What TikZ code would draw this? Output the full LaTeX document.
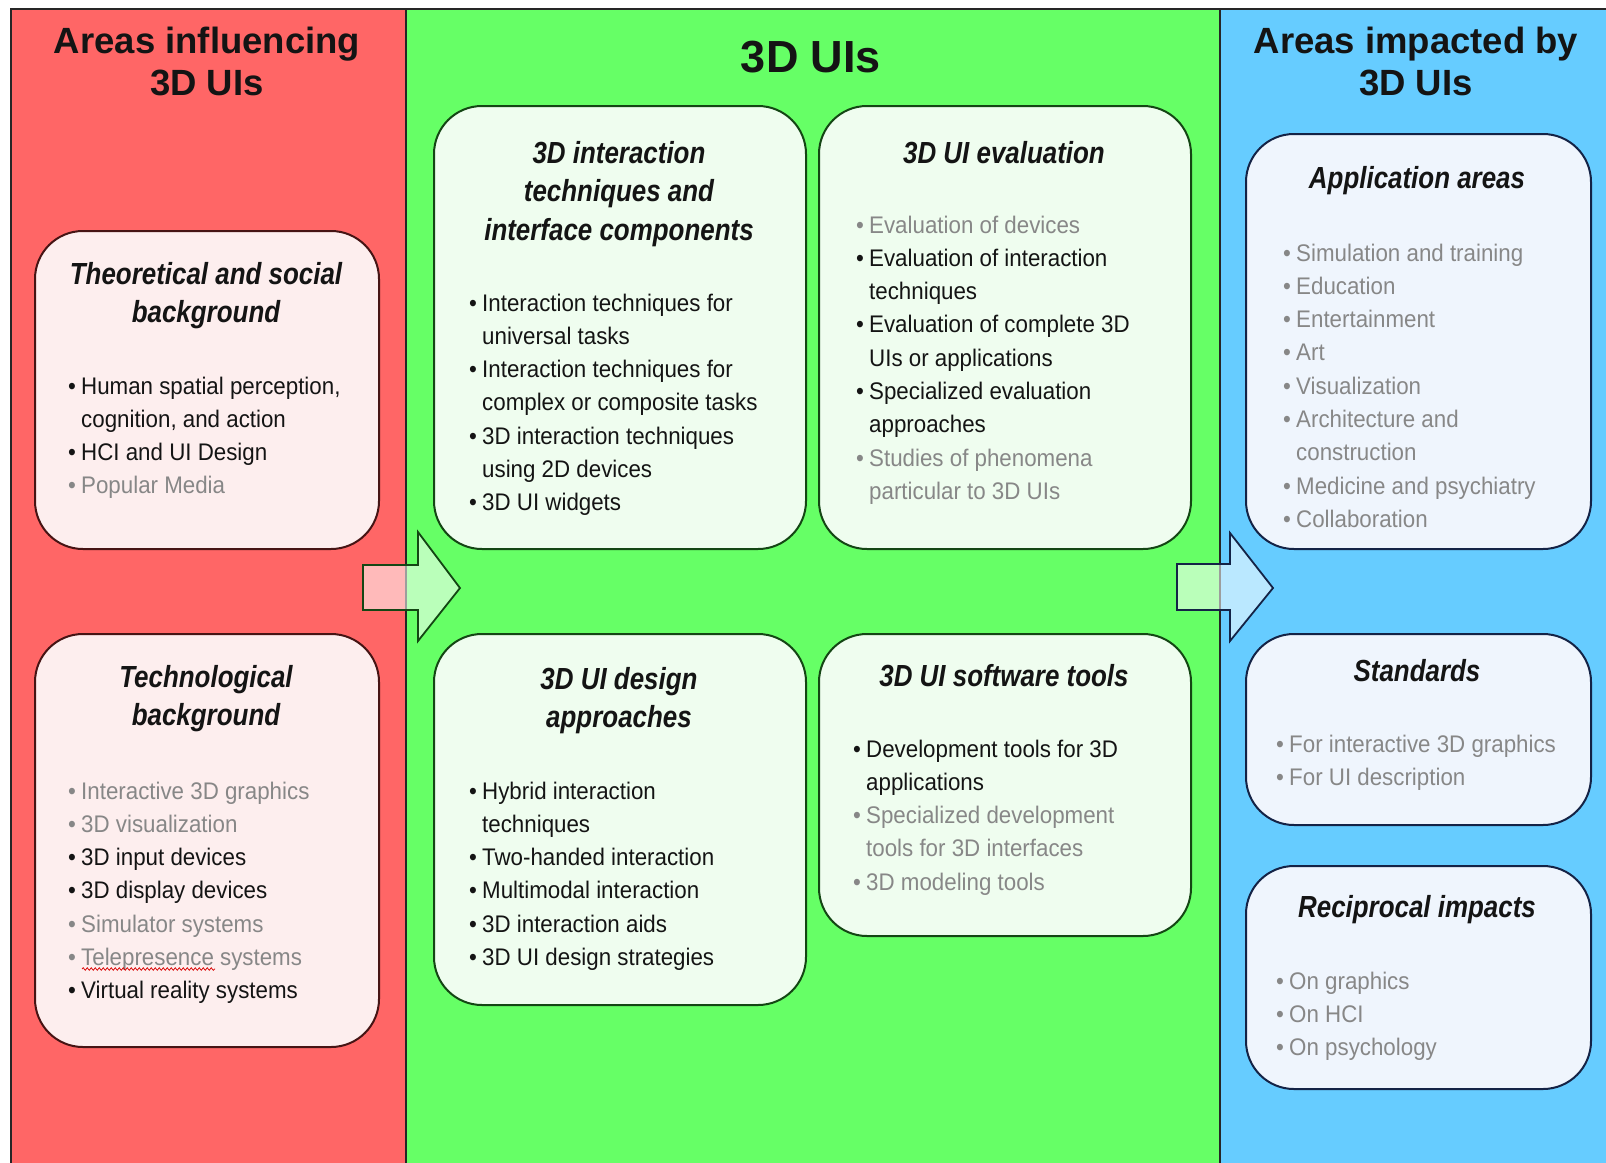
\documentclass[tikz,border=0pt]{standalone}
\usepackage{fontspec}
\setmainfont{Liberation Sans}
\newfontfamily\ttlfont[FakeStretch=0.85]{Liberation Sans}
\newfontfamily\bodyfont[FakeStretch=0.93]{Liberation Sans}
\usetikzlibrary{decorations.pathmorphing}
\definecolor{pred}{RGB}{255,102,102}
\definecolor{pgreen}{RGB}{102,255,102}
\definecolor{pblue}{RGB}{102,204,255}
\definecolor{fred}{RGB}{253,238,238}
\definecolor{fgreen}{RGB}{239,253,239}
\definecolor{fblue}{RGB}{239,245,253}
\definecolor{ored}{RGB}{70,20,20}
\definecolor{ogreen}{RGB}{20,70,20}
\definecolor{oblue}{RGB}{20,35,70}
\definecolor{txtblack}{RGB}{20,20,20}
\definecolor{txtgray}{RGB}{135,135,135}
\newcommand\bk[1]{\makebox[13pt][l]{\textbullet}#1}
\newcommand\ct[1]{\hspace*{13pt}#1}
\newcommand\gy[1]{{\color{txtgray}\makebox[13pt][l]{\textbullet}#1}}
\newcommand\cg[1]{{\color{txtgray}\hspace*{13pt}#1}}
\tikzset{
  panel/.style={draw=black!85, line width=1.5pt, anchor=north west, inner sep=0pt},
  box/.style={rectangle, rounded corners=48pt, line width=2pt, anchor=north west, inner sep=0pt},
  rbox/.style={box, draw=ored, fill=fred},
  gbox/.style={box, draw=ogreen, fill=fgreen},
  bbox/.style={box, draw=oblue, fill=fblue},
  hdr/.style={anchor=base, inner sep=0pt, text=txtblack, font={\fontsize{36.5}{42}\selectfont\bfseries}},
  ttl/.style={anchor=base, inner sep=0pt, text=txtblack, font={\ttlfont\fontsize{30.5}{38.5}\selectfont\bfseries\itshape}},
  lst/.style={anchor=base west, inner sep=0pt, text=txtblack, font={\bodyfont\fontsize{24}{33.3}\selectfont}},
  blockarrow/.style={line width=1.8pt, fill=white, fill opacity=0.55, draw opacity=1},
}
\begin{document}
\begin{tikzpicture}[x=1pt,y=-1pt]
\useasboundingbox (0,0) rectangle (1606,1162);
% panels
\node[panel, fill=pred, minimum width=395pt, minimum height=1180pt] (pl) at (10,8) {};
\node[panel, fill=pgreen, minimum width=814pt, minimum height=1180pt] (pm) at (405,8) {};
\node[panel, fill=pblue, minimum width=400pt, minimum height=1180pt] (pr) at (1219,8) {};
% headers
\node[hdr] (hl) at (207,53) {\begin{tabular}[t]{@{}c@{}}Areas influencing\\3D UIs\end{tabular}};
\node[anchor=base, inner sep=0pt, text=txtblack, font={\fontsize{45}{50}\selectfont\bfseries}] (hm) at (811,72) {3D UIs};
\node[hdr] (hr) at (1416,53) {\begin{tabular}[t]{@{}c@{}}Areas impacted by\\3D UIs\end{tabular}};
% boxes
\node[rbox, minimum width=344pt, minimum height=318pt] (b1) at (34,230) {};
\node[rbox, minimum width=344pt, minimum height=413pt] (b2) at (34,633) {};
\node[gbox, minimum width=372pt, minimum height=443pt] (b3) at (433,105) {};
\node[gbox, minimum width=372pt, minimum height=443pt] (b4) at (818,105) {};
\node[gbox, minimum width=372pt, minimum height=371pt] (b5) at (433,633) {};
\node[gbox, minimum width=372pt, minimum height=302pt] (b6) at (818,633) {};
\node[bbox, minimum width=345pt, minimum height=415pt] (b7) at (1245,133) {};
\node[bbox, minimum width=345pt, minimum height=191pt] (b8) at (1245,633) {};
\node[bbox, minimum width=345pt, minimum height=223pt] (b9) at (1245,865) {};
% block arrows
\draw[blockarrow, draw=ogreen] (363,565) -- (418,565) -- (418,532) -- (460,588) -- (418,641) -- (418,610) -- (363,610) -- cycle;
\draw[blockarrow, draw=oblue] (1177,564) -- (1230,564) -- (1230,533) -- (1273,588) -- (1230,641) -- (1230,610) -- (1177,610) -- cycle;
% box 1
\node[ttl] (t1) at (206,284) {\begin{tabular}[t]{@{}c@{}}Theoretical and social\\background\end{tabular}};
\node[lst] (l1) at (68,394) {\begin{tabular}[t]{@{}l@{}}\bk{Human spatial perception,}\\ \ct{cognition, and action}\\ \bk{HCI and UI Design}\\ \gy{Popular Media}\end{tabular}};
% box 2
\node[ttl] (t2) at (206,687) {\begin{tabular}[t]{@{}c@{}}Technological\\background\end{tabular}};
\node[lst] (l2) at (68,799) {\begin{tabular}[t]{@{}l@{}}\gy{Interactive 3D graphics}\\ \gy{3D visualization}\\ \bk{3D input devices}\\ \bk{3D display devices}\\ \gy{Simulator systems}\\ \gy{Telepresence systems}\\ \bk{Virtual reality systems}\end{tabular}};
\coordinate (sq1) at (82,969);
\coordinate (sq2) at (215,969);
\draw[red!85!black, line width=0.7pt, decorate, decoration={snake, amplitude=1.3pt, segment length=4pt}] (sq1) -- (sq2);
% box 3
\node[ttl] (t3) at (619,163) {\begin{tabular}[t]{@{}c@{}}3D interaction\\techniques and\\interface components\end{tabular}};
\node[lst] (l3) at (469,311) {\begin{tabular}[t]{@{}l@{}}\bk{Interaction techniques for}\\ \ct{universal tasks}\\ \bk{Interaction techniques for}\\ \ct{complex or composite tasks}\\ \bk{3D interaction techniques}\\ \ct{using 2D devices}\\ \bk{3D UI widgets}\end{tabular}};
% box 4
\node[ttl] (t4) at (1004,163) {3D UI evaluation};
\node[lst] (l4) at (856,233) {\begin{tabular}[t]{@{}l@{}}\gy{Evaluation of devices}\\ \bk{Evaluation of interaction}\\ \ct{techniques}\\ \bk{Evaluation of complete 3D}\\ \ct{UIs or applications}\\ \bk{Specialized evaluation}\\ \ct{approaches}\\ \gy{Studies of phenomena}\\ \cg{particular to 3D UIs}\end{tabular}};
% box 5
\node[ttl] (t5) at (619,689) {\begin{tabular}[t]{@{}c@{}}3D UI design\\approaches\end{tabular}};
\node[lst] (l5) at (469,799) {\begin{tabular}[t]{@{}l@{}}\bk{Hybrid interaction}\\ \ct{techniques}\\ \bk{Two-handed interaction}\\ \bk{Multimodal interaction}\\ \bk{3D interaction aids}\\ \bk{3D UI design strategies}\end{tabular}};
% box 6
\node[ttl] (t6) at (1004,686) {3D UI software tools};
\node[lst] (l6) at (853,757) {\begin{tabular}[t]{@{}l@{}}\bk{Development tools for 3D}\\ \ct{applications}\\ \gy{Specialized development}\\ \cg{tools for 3D interfaces}\\ \gy{3D modeling tools}\end{tabular}};
% box 7
\node[ttl] (t7) at (1417,188) {Application areas};
\node[lst] (l7) at (1283,261) {\begin{tabular}[t]{@{}l@{}}\gy{Simulation and training}\\ \gy{Education}\\ \gy{Entertainment}\\ \gy{Art}\\ \gy{Visualization}\\ \gy{Architecture and}\\ \cg{construction}\\ \gy{Medicine and psychiatry}\\ \gy{Collaboration}\end{tabular}};
% box 8
\node[ttl] (t8) at (1417,681) {Standards};
\node[lst] (l8) at (1276,752) {\begin{tabular}[t]{@{}l@{}}\gy{For interactive 3D graphics}\\ \gy{For UI description}\end{tabular}};
% box 9
\node[ttl] (t9) at (1417,917) {Reciprocal impacts};
\node[lst] (l9) at (1276,989) {\begin{tabular}[t]{@{}l@{}}\gy{On graphics}\\ \gy{On HCI}\\ \gy{On psychology}\end{tabular}};
\end{tikzpicture}
\end{document}
